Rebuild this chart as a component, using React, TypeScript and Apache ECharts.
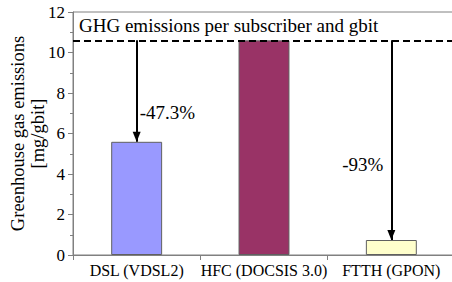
import React, { useEffect, useRef } from "react";
import * as echarts from "echarts";

const categories = ["DSL (VDSL2)", "HFC (DOCSIS 3.0)", "FTTH (GPON)"];
const emissions = [5.59, 10.6, 0.74];
const barColors = ["#9999FF", "#993366", "#FFFFCC"];
const reference = 10.6;
const reductionLabels = ["-47.3%", "-93%"];
const reductionLabelValues = [7.05, 4.45];
const yTicks = { min: 0, max: 12, interval: 2 };
const titleText = "GHG emissions per subscriber and gbit";
const yName = "Greenhouse gas emissions\n[mg/gbit]";

const FONT = "Liberation Serif";

export default function App() {
  const ref = useRef<HTMLDivElement>(null);
  useEffect(() => {
    const chart = echarts.init(ref.current!, null, { renderer: "svg" });
    chart.setOption({
      animation: false,
      textStyle: { fontFamily: FONT, color: "#000" },
      grid: {
        left: 73,
        top: 12,
        width: 382,
        height: 243,
        show: true,
        borderColor: "#808080",
        borderWidth: 1,
        containLabel: false,
        outerBoundsMode: "none",
      },
      graphic: [
        {
          type: "text",
          x: 79,
          y: 25,
          style: { text: titleText, fontSize: 19, fontFamily: FONT, fill: "#000", verticalAlign: "middle" },
        },
      ],
      xAxis: {
        type: "category",
        data: categories,
        axisLine: { lineStyle: { color: "#808080" } },
        axisTick: { show: true, length: 5, alignWithLabel: false, lineStyle: { color: "#808080" } },
        axisLabel: { color: "#000", fontSize: 16, fontFamily: FONT, margin: 7, interval: 0 },
      },
      yAxis: {
        type: "value",
        min: yTicks.min,
        max: yTicks.max,
        interval: yTicks.interval,
        name: yName,
        nameLocation: "middle",
        nameGap: 25,
        nameMoveOverlap: false,
        nameRotate: 90,
        nameTextStyle: { color: "#000", fontSize: 18.5, fontFamily: FONT, lineHeight: 20, align: "center" },
        axisLine: { show: true, lineStyle: { color: "#808080" } },
        axisTick: { show: true, length: 5, lineStyle: { color: "#808080" } },
        minorTick: { show: true, splitNumber: 2, length: 3, lineStyle: { color: "#808080" } },
        splitLine: { show: false },
        axisLabel: { color: "#000", fontSize: 17, fontFamily: FONT, margin: 8 },
      },
      series: [
        {
          type: "bar",
          barWidth: "40%",
          data: emissions.map((v, i) => ({
            value: v,
            itemStyle: { color: barColors[i], borderColor: "#606060", borderWidth: 1 },
          })),
          markLine: {
            silent: true,
            symbol: "none",
            symbolSize: [8, 10],
            label: { show: false },
            lineStyle: { color: "#000", width: 2, type: "solid" },
            data: [
              { yAxis: reference, symbol: "none", lineStyle: { type: [7, 4], width: 2, color: "#000" } },
              [
                { coord: [0, reference], symbol: "none" },
                { coord: [0, emissions[0]], symbol: "triangle", symbolSize: [8, 10], symbolOffset: [0, 5] },
              ],
              [
                { coord: [2, reference], symbol: "none" },
                { coord: [2, emissions[2]], symbol: "triangle", symbolSize: [8, 10], symbolOffset: [0, 5] },
              ],
            ],
          },
          markPoint: {
            silent: true,
            symbol: "circle",
            symbolSize: 0,
            data: [
              {
                coord: [0, reductionLabelValues[0]],
                label: { show: true, formatter: reductionLabels[0], position: "right", distance: 3, color: "#000", fontSize: 19, fontFamily: FONT },
              },
              {
                coord: [2, reductionLabelValues[1]],
                label: { show: true, formatter: reductionLabels[1], position: "left", distance: 8, color: "#000", fontSize: 19, fontFamily: FONT },
              },
            ],
          },
        },
      ],
    });
    return () => chart.dispose();
  }, []);
  return <div ref={ref} style={{ position: "fixed", left: 0, top: 0, width: 452, height: 282, background: "#fff" }} />;
}
